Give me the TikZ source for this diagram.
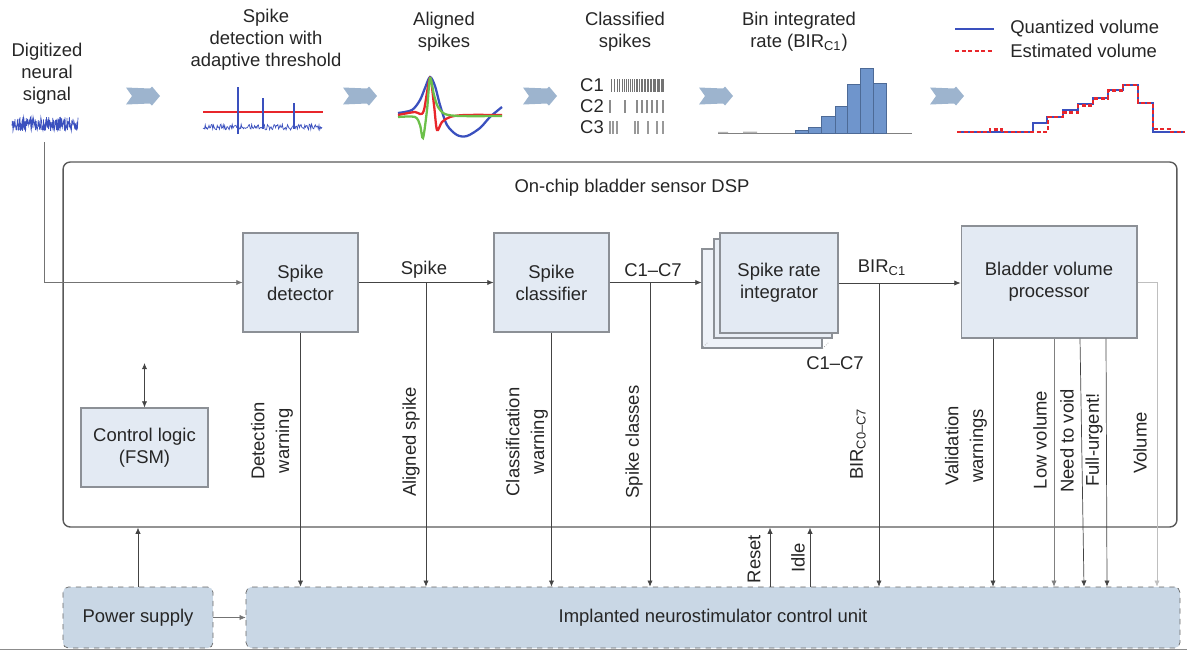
\documentclass[tikz,border=0pt]{standalone}
\usepackage{fontspec}
\setmainfont{Liberation Sans}
\usetikzlibrary{positioning,arrows.meta}
\definecolor{blkfill}{HTML}{E3EAF3}
\definecolor{blkline}{HTML}{8C9096}
\definecolor{unitfill}{HTML}{C9D7E5}
\definecolor{chevfill}{HTML}{9DB4CE}
\definecolor{sigblue}{HTML}{3A50BE}
\definecolor{sigred}{HTML}{E8262B}
\definecolor{siggreen}{HTML}{6CC04A}
\definecolor{histfill}{HTML}{6F95CC}
\definecolor{histline}{HTML}{4D6A96}
\definecolor{wire}{HTML}{444444}

\begin{document}
\begin{tikzpicture}[x=0.02cm,y=-0.02cm,font=\fontsize{10.5}{12.5}\selectfont,text=black!85,
  blk/.style={draw=blkline,fill=blkfill,line width=0.6pt,minimum width=2.3cm,minimum height=1.98cm,align=center},
  unit/.style={draw=black!60,dashed,fill=unitfill,rounded corners=3pt,minimum height=1.22cm},
  wr/.style={draw=wire,line width=0.4pt},
  ar/.style={wr,-{Latex[length=3.5pt,width=3pt]}},
  vlab/.style={rotate=90,align=center,font=\fontsize{10.5}{14}\selectfont},
  chev/.style={fill=chevfill,draw=none}]
\useasboundingbox (0,0) rectangle (1187,650);
\pgfmathsetseed{7}

\node[align=center] (sigtxt) at (47,74) {Digitized\\neural\\signal};
\node[align=center] (dettxt) at (266,40) {Spike\\detection with\\adaptive threshold};
\node[align=center] (alitxt) at (444,32) {Aligned\\spikes};
\node[align=center] (clstxt) at (625,32) {Classified\\spikes};
\node[align=center] (birtxt) at (799,32) {Bin integrated\\rate (BIR\textsubscript{C1})};
\node[anchor=west,inner sep=0] (qvol) at (1010,29) {Quantized volume};
\node[anchor=west,inner sep=0] (evol) at (1010,51) {Estimated volume};

\foreach \cx in {143,360,540,716,947}
  \fill[chev] (\cx,96) ++(-17,-8.5) -- ++(24,1) -- ++(2,-2) -- ++(8,9.5) -- ++(-8,9.5) -- ++(-2,-2) -- ++(-24,1) -- ++(6,-8.5) -- cycle;

\draw[sigblue,line width=0.4pt] plot[domain=12:78,samples=200] (\x,{124+7*rand});
\draw[sigred,line width=1.2pt] (203,112) -- (323,112);
\draw[sigblue,line width=0.4pt] plot[domain=203:322,samples=160] (\x,{127+3*rand});
\draw[sigblue,line width=0.6pt] (238,134) -- (238,87) (263,129) -- (263,98) (294,129) -- (294,103);

\draw[sigblue,line width=1.3pt] plot[smooth] coordinates {(398,113) (412,110) (420,100) (425,88) (430,77) (435,86) (440,105) (447,125) (457,135) (467,136) (480,128) (490,117) (502,107)};
\draw[sigred,line width=1.3pt] plot[smooth] coordinates {(398,115) (415,112) (420,114) (424,110) (430,78) (434,105) (437,130) (442,122) (450,117) (465,115) (502,115)};
\draw[siggreen,line width=1.3pt] plot[smooth] coordinates {(398,117) (415,117) (420,125) (423,138) (427,110) (430,78) (434,95) (438,107) (445,114) (460,116) (502,116)};

\node (c1) at (592,85) {C1};
\node (c2) at (592,106) {C2};
\node (c3) at (592,127) {C3};
\foreach \b in {611,614,617,619,622,624,626,628,630,632,634,636,637,639,641,642,644,645,647,648,650,651,653,654,655,657,658,659,661,662,663}
  \draw[black!55,line width=0.5pt] (\b,79) -- (\b,92);
\foreach \b in {625,637,642,647,652,657,663}
  \draw[black!45,line width=0.6pt] (\b,100) -- (\b,113);
\draw[black!45,line width=1.3pt] (610,100) -- (610,113);
\foreach \b in {610,613,617,635,638,648,657,663}
  \draw[black!40,line width=0.6pt] (\b,121) -- (\b,134);

\draw[black!50] (718,133) -- (912,133);
\fill[black!30] (718,131.8) rectangle (728,133) (743,131.5) rectangle (757,133);
\foreach \l/\r/\t in {795/808.3/130,808.3/821.7/127.3,821.7/835/116,835/847.7/106,847.7/860.7/84.3,860.7/873.7/68.3,873.7/886.7/83.3}
  \filldraw[fill=histfill,draw=histline,line width=0.4pt] (\l,133) rectangle (\r,\t);

\draw[sigblue,line width=1.2pt] (955,29) -- (994,29);
\draw[sigred,line width=1.4pt,dash pattern=on 2.5pt off 1.2pt] (955,51) -- (994,51);
\draw[sigblue,line width=1.2pt] (957,132) -- (1033,132) -- (1033,123) -- (1047,123) -- (1047,116.7) -- (1063,116.7) -- (1063,110) -- (1078,110) -- (1078,104) -- (1093,104) -- (1093,98) -- (1108,98) -- (1108,90) -- (1123,90) -- (1123,85) -- (1138,85) -- (1138,102.7) -- (1153,102.7) -- (1153,132) -- (1185,132);
\draw[sigred,line width=1.4pt,dash pattern=on 2.5pt off 1.2pt] (957,132) -- (990,132) -- (990,129.5) -- (1002,129.5) -- (1002,132) -- (1048,132) -- (1048,117) -- (1063,117) -- (1063,112.5) -- (1078,112.5) -- (1078,105.5) -- (1093,105.5) -- (1093,98.5) -- (1108,98.5) -- (1108,90.5) -- (1123,90.5) -- (1123,85) -- (1138,85) -- (1138,103) -- (1153,103) -- (1153,129) -- (1170,129) -- (1170,132) -- (1185,132);

\node[draw=black!65,line width=0.8pt,rounded corners=4pt,minimum width=22.28cm,minimum height=7.3cm,inner sep=0] (dsp) at (620,344.5) {};
\node (dsptitle) at (632,188) {On-chip bladder sensor DSP};

\node[blk] (det) at (300.5,282.5) {Spike\\detector};
\node[blk] (cls) at (551.5,282.5) {Spike\\classifier};
\node[blk,fill=blkfill!60,minimum width=2.4cm,minimum height=1.98cm] (sri3) at (762,298.5) {};
\node[blk,fill=blkfill!80,minimum width=2.36cm,minimum height=1.98cm] (sri2) at (773,288.5) {};
\node[blk,minimum width=2.36cm,minimum height=2cm] (sri) at (779,283) {Spike rate\\integrator};
\draw[black!40,densely dotted] (sri3.south west) -- ++(6,-6) (sri3.south east) -- ++(6,-6);
\node[blk,minimum width=3.52cm,minimum height=2.24cm] (bvp) at (1049,282) {Bladder volume\\processor};
\node[blk,minimum width=2.54cm,minimum height=1.58cm] (ctl) at (144.5,447.5) {Control logic\\(FSM)};
\node[unit,minimum width=3cm] (psu) at (138,617.5) {Power supply};
\node[unit,minimum width=18.68cm] (inu) at (713,617.5) {Implanted neurostimulator control unit};

\node (spk) at (424,270) {Spike};
\node (cc) at (653,270) {C1--C7};
\node (bir) at (882,268) {BIR\textsubscript{C1}};
\node (cc2) at (835,363) {C1--C7};

\coordinate (sigin) at (44,142);
\coordinate (tspk) at (426,283);
\coordinate (tcls) at (650,283);
\coordinate (tbir) at (879,283);
\coordinate (ctltop) at (144.5,363);

\draw[ar,draw=black!55] (sigin) |- (det.west);
\draw[ar] (det.east) -- (cls.west);
\draw[ar] (cls.east) -- (sri3.west |- cls.east);
\draw[ar] (sri.east) -- (bvp.west |- sri.east);
\draw[wr,{Latex[length=3.5pt,width=3pt]}-{Latex[length=3.5pt,width=3pt]}] (ctltop) -- (ctl.north);

\draw[ar] (det.south) -- (det.south |- inu.north);
\draw[ar] (tspk) -- (tspk |- inu.north);
\draw[ar] (cls.south) -- (cls.south |- inu.north);
\draw[ar] (tcls) -- (tcls |- inu.north);
\draw[ar] (tbir) -- (tbir |- inu.north);
\draw[ar] (993,0 |- bvp.south) -- (993,0 |- inu.north);
\draw[ar,draw=black!50] (1054,0 |- bvp.south) -- (1054,0 |- inu.north);
\draw[ar] (1080,0 |- bvp.south) -- (1084,0 |- inu.north);
\draw[ar] (1106,0 |- bvp.south) -- (1107,0 |- inu.north);
\draw[ar,draw=black!25] (bvp.east) -- (1157,0 |- bvp.east) -- (1157,0 |- inu.north);
\draw[ar] (770,0 |- inu.north) -- (770,0 |- dsp.south);
\draw[ar] (810,0 |- inu.north) -- (810,0 |- dsp.south);
\draw[ar] (psu.north) -- (psu.north |- dsp.south);
\draw[ar,draw=black!55] (psu.east) -- (inu.west);

\node[vlab] (lwdet) at (272,441) {Detection\\warning};
\node[vlab] (lwali) at (411,442) {Aligned spike};
\node[vlab] (lwcls) at (527,442) {Classification\\warning};
\node[vlab] (lwcla) at (634,442) {Spike classes};
\node[vlab] (lwbir) at (858,444) {BIR\textsubscript{C0--C7}};
\node[vlab] (lwval) at (966,446) {Validation\\warnings};
\node[vlab] (lwlow) at (1040,440) {Low volume};
\node[vlab] (lwneed) at (1067,441) {Need to void};
\node[vlab] (lwfull) at (1094,440) {Full-urgent!};
\node[vlab] (lwvol) at (1140,443) {Volume};
\node[vlab] (lwrst) at (754,559) {Reset};
\node[vlab] (lwidl) at (798,558) {Idle};

\draw[black!45] (0,649) -- (1187,649);
\end{tikzpicture}
\end{document}
